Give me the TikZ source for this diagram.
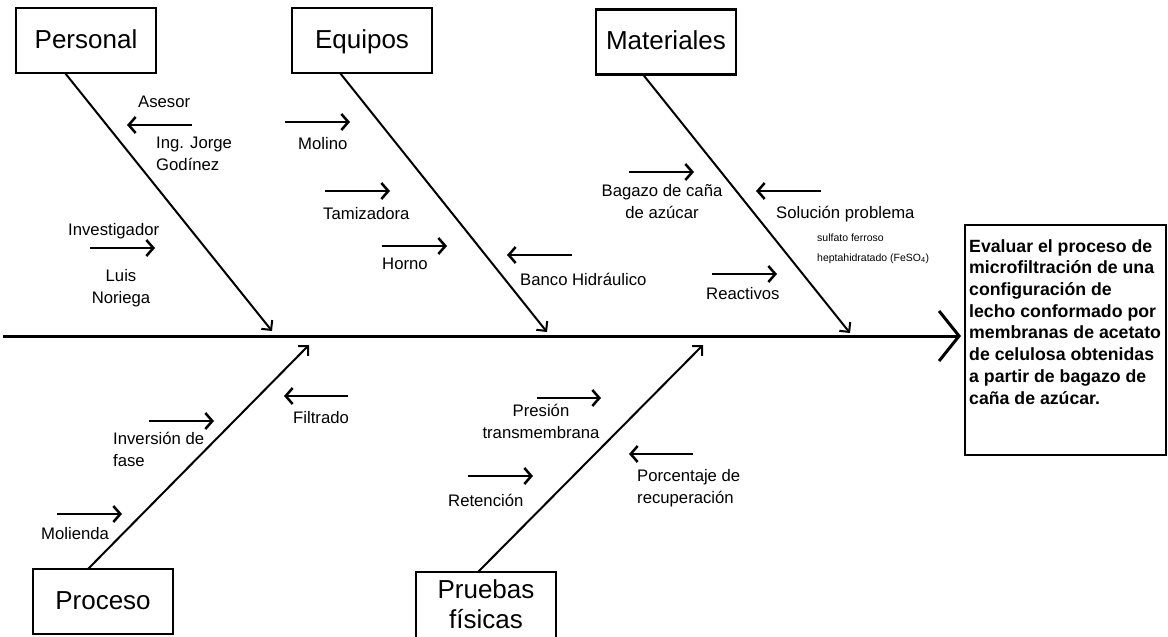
\documentclass[tikz,border=0pt]{standalone}
\usepackage{fontspec}
\setmainfont{Liberation Sans}
\usetikzlibrary{arrows.meta}
\begin{document}
\begin{tikzpicture}[x=1pt,y=-1pt,
  catbox/.style={draw,line width=2.5pt,inner sep=0pt,outer sep=0pt,minimum width=140pt,minimum height=65pt,text height=19pt,text depth=4pt,font=\fontsize{26}{31}\selectfont},
  cattext/.style={inner sep=0pt,align=center,font=\fontsize{26}{30}\selectfont},
  bone/.style={line width=2pt,-{Straight Barb[length=7pt,width=14pt]}},
  spine/.style={line width=3pt,-{Straight Barb[length=20pt,width=50pt]}},
  cause/.style={line width=2.5pt,-{Straight Barb[length=7pt,width=16pt]}},
  lbl/.style={inner sep=0pt,font=\fontsize{16.7}{21.5}\selectfont},
  note/.style={inner sep=0pt,font=\fontsize{10.5}{20}\selectfont},
  goaltext/.style={inner sep=0pt,align=left,font=\fontsize{17.7}{21.7}\selectfont\bfseries},
]
\useasboundingbox (0,0) rectangle (1168,637);

% category boxes
\node[catbox] (personal) at (86,40.5) {Personal};
\node[catbox] (equipos) at (362,40.5) {Equipos};
\node[catbox] (materiales) at (666,42) {Materiales};
\node[catbox] (proceso) at (103,601.5) {Proceso};
\node[catbox,anchor=north,minimum height=75pt] (pruebas) at (486,572) {};
\node[cattext,anchor=base] (pruebas-t) at (486,628) {Pruebas\\físicas};

% effect box
\node[draw,line width=2.5pt,outer sep=0pt,minimum width=201pt,minimum height=230pt,anchor=north west] (goal) at (965,225) {};
\node[goaltext,anchor=base west] (goal-t) at (969,404) {Evaluar el proceso de\\microfiltración de una\\configuración de\\lecho conformado por\\membranas de acetato\\de celulosa obtenidas\\a partir de bagazo de\\caña de azúcar.};

% spine
\coordinate (spine-start) at (3,336);
\draw[spine,shorten >=4pt] (spine-start) -- (goal.west |- spine-start);

% bone tips on the spine
\coordinate (p-tip) at (272,331);
\coordinate (e-tip) at (547,332);
\coordinate (m-tip) at (850,333);
\coordinate (pr-tip) at (309,345);
\coordinate (pf-tip) at (703,345);

\draw[bone] ([xshift=-21pt]personal.south) -- (p-tip);
\draw[bone] ([xshift=-22pt]equipos.south) -- (e-tip);
\draw[bone] ([xshift=-23pt]materiales.south) -- (m-tip);
\draw[bone] ([xshift=-15pt]proceso.north) -- (pr-tip);
\draw[bone] ([xshift=-8pt]pruebas.north) -- (pf-tip);

% Personal
\node[lbl,anchor=base west] (asesor) at (138,107) {Asesor};
\coordinate (asesor-a) at (192,125); \coordinate (asesor-b) at (127,125);
\draw[cause] (asesor-a) -- (asesor-b);
\node[lbl,anchor=base west,align=left] (jorge) at (156,170) {Ing. Jorge\\Godínez};
\node[lbl,anchor=base west] (investigador) at (68,235) {Investigador};
\coordinate (inv-a) at (90,248); \coordinate (inv-b) at (155,248);
\draw[cause] (inv-a) -- (inv-b);
\node[lbl,anchor=base,align=center] (luis) at (121,303) {Luis\\Noriega};

% Equipos
\coordinate (molino-a) at (285,122); \coordinate (molino-b) at (350,122);
\draw[cause] (molino-a) -- (molino-b);
\node[lbl,anchor=base west] (molino) at (298,149) {Molino};
\coordinate (tam-a) at (325,191); \coordinate (tam-b) at (390,191);
\draw[cause] (tam-a) -- (tam-b);
\node[lbl,anchor=base west] (tamizadora) at (323,219) {Tamizadora};
\coordinate (horno-a) at (382,246); \coordinate (horno-b) at (447,246);
\draw[cause] (horno-a) -- (horno-b);
\node[lbl,anchor=base west] (horno) at (382,269) {Horno};
\coordinate (banco-a) at (572,255); \coordinate (banco-b) at (507,255);
\draw[cause] (banco-a) -- (banco-b);
\node[lbl,anchor=base west] (banco) at (520,285) {Banco Hidráulico};

% Materiales
\coordinate (bagazo-a) at (629,172); \coordinate (bagazo-b) at (694,172);
\draw[cause] (bagazo-a) -- (bagazo-b);
\node[lbl,anchor=base,align=center] (bagazo) at (662,218) {Bagazo de caña\\de azúcar};
\coordinate (sol-a) at (821,191); \coordinate (sol-b) at (756,191);
\draw[cause] (sol-a) -- (sol-b);
\node[lbl,anchor=base west] (solucion) at (776,218) {Solución problema};
\node[note,anchor=base west,align=left] (sulfato) at (817,261) {sulfato ferroso\\heptahidratado (FeSO\textsubscript{4})};
\coordinate (react-a) at (712,274); \coordinate (react-b) at (777,274);
\draw[cause] (react-a) -- (react-b);
\node[lbl,anchor=base west] (reactivos) at (706,299) {Reactivos};

% Proceso
\coordinate (filt-a) at (348,396); \coordinate (filt-b) at (284,396);
\draw[cause] (filt-a) -- (filt-b);
\node[lbl,anchor=base west] (filtrado) at (293,423) {Filtrado};
\coordinate (inv2-a) at (149,421); \coordinate (inv2-b) at (214,421);
\draw[cause] (inv2-a) -- (inv2-b);
\node[lbl,anchor=base west,align=left] (inversion) at (113,466) {Inversión de\\fase};
\coordinate (mol-a) at (57,514); \coordinate (mol-b) at (122,514);
\draw[cause] (mol-a) -- (mol-b);
\node[lbl,anchor=base west] (molienda) at (41,539) {Molienda};

% Pruebas fisicas
\coordinate (pres-a) at (537,398); \coordinate (pres-b) at (601,398);
\draw[cause] (pres-a) -- (pres-b);
\node[lbl,anchor=base,align=center] (presion) at (541,438) {Presión\\transmembrana};
\coordinate (ret-a) at (468,476); \coordinate (ret-b) at (533,476);
\draw[cause] (ret-a) -- (ret-b);
\node[lbl,anchor=base west] (retencion) at (448,506) {Retención};
\coordinate (porc-a) at (693,454); \coordinate (porc-b) at (629,454);
\draw[cause] (porc-a) -- (porc-b);
\node[lbl,anchor=base west,align=left] (porcentaje) at (637,503) {Porcentaje de\\recuperación};
\end{tikzpicture}
\end{document}
